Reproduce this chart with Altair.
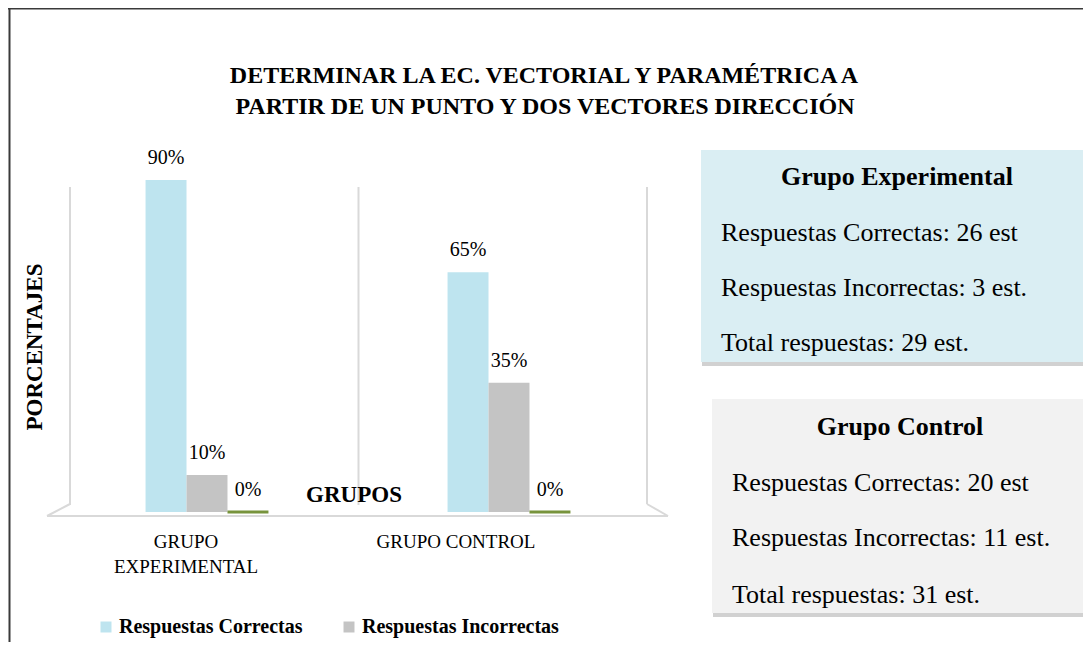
import altair as alt
import pandas as pd

# ---------------- data ----------------
grupos = ["GRUPO EXPERIMENTAL", "GRUPO CONTROL"]
etiquetas_grupo = ["GRUPO\nEXPERIMENTAL", "GRUPO CONTROL"]
series = ["Respuestas Correctas", "Respuestas Incorrectas", "Serie 3"]
correctas = [90, 65]
incorrectas = [10, 35]
serie3 = [0, 0]

titulo = ["DETERMINAR LA EC. VECTORIAL Y PARAMÉTRICA A",
          "PARTIR DE UN PUNTO Y DOS VECTORES DIRECCIÓN"]
eje_y = "PORCENTAJES"
eje_x = "GRUPOS"
caja_exp_titulo = "Grupo Experimental"
caja_exp_lineas = ["Respuestas Correctas: 26 est",
                   "Respuestas Incorrectas: 3 est.",
                   "Total respuestas: 29 est."]
caja_ctl_titulo = "Grupo Control"
caja_ctl_lineas = ["Respuestas Correctas: 20 est",
                   "Respuestas Incorrectas: 11 est.",
                   "Total respuestas: 31 est."]

colores = ["#BEE4EF", "#C4C4C4", "#77933C"]
FONT = "Liberation Serif"

rows = []
for i, g in enumerate(grupos):
    for s, vals in zip(series, [correctas, incorrectas, serie3]):
        rows.append({"grupo": g, "serie": s, "valor": vals[i]})
df = pd.DataFrame(rows)

W, H = 1075, 634

# bar positions (3D perspective shifts groups slightly)
xscale = alt.Scale(domain=grupos, range=[48, 652], paddingInner=0.593, paddingOuter=0.2965)
# back-wall boundaries
wallscale = alt.Scale(domain=grupos, range=[62, 639], paddingInner=0, paddingOuter=0)
# front category labels
labscale = alt.Scale(domain=grupos, range=[43, 583], paddingInner=0, paddingOuter=0)
yscale = alt.Scale(domain=[0, 100], range=[504, 135])
offscale = alt.Scale(domain=series, paddingInner=0, paddingOuter=0)
colorscale = alt.Scale(domain=series, range=colores)

X = alt.X("grupo:N", scale=xscale, axis=None)
XO = alt.XOffset("serie:N", scale=offscale)
Y = alt.Y("valor:Q", scale=yscale, axis=None)

one = pd.DataFrame({"k": [0]})
WALL = "#D9D9D9"

# frame (top and left edges visible)
frame_top = alt.Chart(one).mark_rule(color="#3A3A3A", strokeWidth=2).encode(
    x=alt.value(0), x2=alt.value(W), y=alt.value(0.5))
frame_left = alt.Chart(one).mark_rule(color="#3A3A3A", strokeWidth=2).encode(
    x=alt.value(1.5), y=alt.value(0), y2=alt.value(H))

# walls / floor
walls = alt.Chart(pd.DataFrame({"grupo": grupos})).mark_rule(color=WALL, strokeWidth=2).encode(
    x=alt.X("grupo:N", scale=wallscale, axis=None, bandPosition=0),
    y=alt.value(179), y2=alt.value(497))
wall_r = alt.Chart(pd.DataFrame({"grupo": grupos[-1:]})).mark_rule(color=WALL, strokeWidth=2).encode(
    x=alt.X("grupo:N", scale=wallscale, axis=None, bandPosition=1),
    y=alt.value(179), y2=alt.value(496))
floor = alt.Chart(one).mark_rule(color=WALL, strokeWidth=2).encode(
    x=alt.value(39), x2=alt.value(660), y=alt.value(508))
diag_l = alt.Chart(one).mark_rule(color=WALL, strokeWidth=2).encode(
    x=alt.value(62), x2=alt.value(39), y=alt.value(496), y2=alt.value(508))
diag_r = alt.Chart(one).mark_rule(color=WALL, strokeWidth=2).encode(
    x=alt.value(639), x2=alt.value(660), y=alt.value(496), y2=alt.value(508))

# bars
bars = alt.Chart(df).transform_filter(alt.datum.serie != series[2]).mark_bar().encode(
    x=X, xOffset=XO, y=Y,
    color=alt.Color("serie:N", scale=colorscale,
                    legend=alt.Legend(title=None, orient="none", legendX=88, legendY=609,
                                      direction="horizontal", symbolType="square",
                                      symbolSize=121, symbolStrokeWidth=0,
                                      labelFont=FONT, labelFontSize=20,
                                      labelFontWeight="bold", labelColor="black",
                                      labelLimit=0, columnPadding=36, labelOffset=3,
                                      values=series[:2])))
bars_zero = alt.Chart(df).transform_filter(alt.datum.serie == series[2]).mark_bar(
    stroke=colores[2], strokeWidth=3, color=colores[2]).encode(x=X, xOffset=XO, y=Y)

labels = alt.Chart(df).transform_calculate(etq="datum.valor + '%'").mark_text(
    font=FONT, fontSize=20, baseline="bottom", dy=-12, color="black").encode(
    x=X, xOffset=XO, y=Y, text="etq:N")

cat_labels = alt.Chart(pd.DataFrame({"grupo": grupos, "etq": etiquetas_grupo})).mark_text(
    font=FONT, fontSize=19, lineBreak="\n", baseline="alphabetic",
    lineHeight=25, color="black").encode(
    x=alt.X("grupo:N", scale=labscale, axis=None), y=alt.value(540), text="etq:N")

# axis titles
ytitle = alt.Chart(pd.DataFrame({"t": [eje_y]})).mark_text(
    font=FONT, fontSize=23, fontWeight="bold", angle=270, baseline="middle",
    color="black").encode(x=alt.value(27), y=alt.value(339), text="t:N")
xtitle = alt.Chart(pd.DataFrame({"t": [eje_x]})).mark_text(
    font=FONT, fontSize=23, fontWeight="bold", baseline="middle",
    color="black").encode(x=alt.value(346), y=alt.value(487), text="t:N")

# chart title
title1 = alt.Chart(pd.DataFrame({"t": [titulo[0]]})).mark_text(
    font=FONT, fontSize=24, fontWeight="bold", baseline="middle", color="black").encode(
    x=alt.value(536), y=alt.value(68), text="t:N")
title2 = alt.Chart(pd.DataFrame({"t": [titulo[1]]})).mark_text(
    font=FONT, fontSize=24, fontWeight="bold", baseline="middle", color="black").encode(
    x=alt.value(537), y=alt.value(99), text="t:N")

# info boxes
def box(x1, y1, x2, y2, fill, head, lines, head_x, head_y, text_x, ys):
    shadow = alt.Chart(one).mark_rect(color="#9A9A9A", opacity=0.45).encode(
        x=alt.value(x1 + 1), x2=alt.value(x2 + 2), y=alt.value(y1 + 3), y2=alt.value(y2 + 4))
    rect = alt.Chart(one).mark_rect(color=fill).encode(
        x=alt.value(x1), x2=alt.value(x2), y=alt.value(y1), y2=alt.value(y2))
    htxt = alt.Chart(pd.DataFrame({"t": [head]})).mark_text(
        font=FONT, fontSize=26, fontWeight="bold", baseline="middle", color="black").encode(
        x=alt.value(head_x), y=alt.value(head_y), text="t:N")
    layers = [shadow, rect, htxt]
    for ln, yy in zip(lines, ys):
        layers.append(alt.Chart(pd.DataFrame({"t": [ln]})).mark_text(
            font=FONT, fontSize=26, align="left", baseline="middle", color="black").encode(
            x=alt.value(text_x), y=alt.value(yy), text="t:N"))
    return layers

box1 = box(693, 142, 1080, 354, "#DAEEF3", caja_exp_titulo, caja_exp_lineas,
           889, 169, 713, [225, 280, 335])
box2 = box(704, 391, 1080, 605, "#F2F2F2", caja_ctl_titulo, caja_ctl_lineas,
           892, 419, 724, [475, 530, 587])

chart = alt.layer(
    frame_top, frame_left, walls, wall_r, floor, diag_l, diag_r,
    bars, bars_zero, labels, cat_labels, ytitle, xtitle, title1, title2,
    *box1, *box2
).resolve_scale(x="independent").properties(
    width=W, height=H, padding=0, autosize=alt.AutoSizeParams(type="none"),
    background="white"
).configure_view(strokeWidth=0)

chart.save("out.html", embed_options={"renderer": "svg", "actions": False})
